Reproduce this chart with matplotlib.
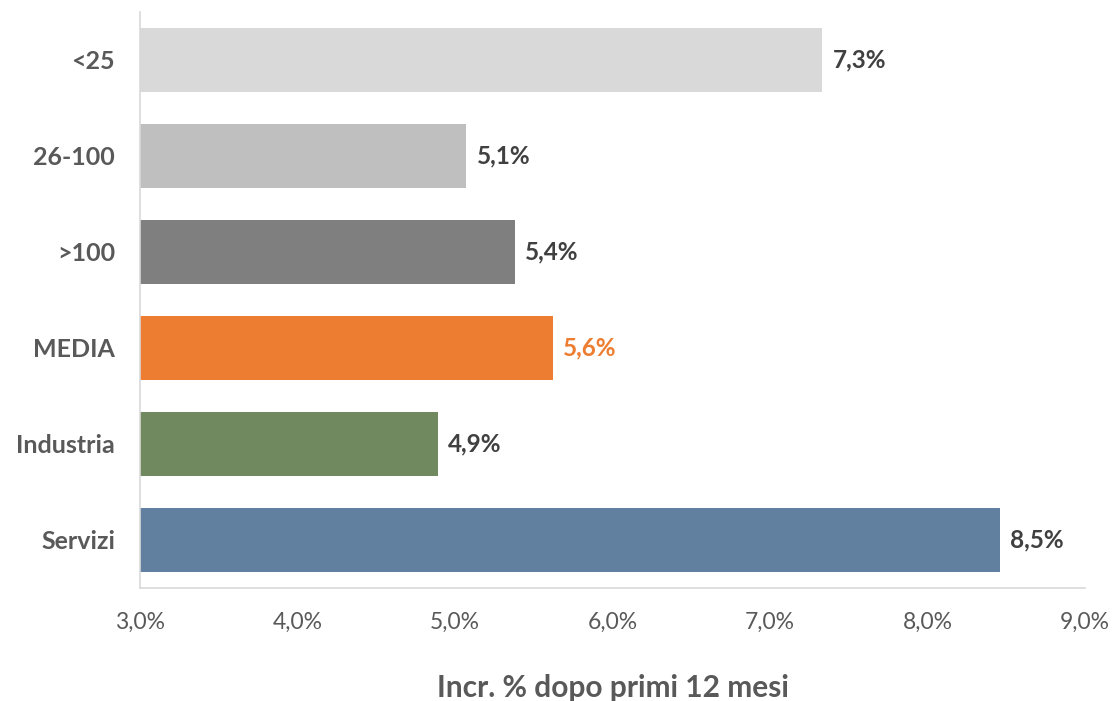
import matplotlib.pyplot as plt

plt.rcParams['font.family'] = ['Lato', 'DejaVu Sans']

categorie = ['<25', '26-100', '>100', 'MEDIA', 'Industria', 'Servizi']
valori = [7.33, 5.07, 5.38, 5.62, 4.89, 8.46]
colori = ['#d9d9d9', '#bfbfbf', '#7f7f7f', '#ed7d31', '#71895f', '#61809f']
colori_etichette = ['#404040', '#404040', '#404040', '#ed7d31', '#404040', '#404040']
x_ticks = [3, 4, 5, 6, 7, 8, 9]

fig = plt.figure(figsize=(11.12, 7.01), dpi=100)
ax = fig.add_axes([0.1259, 0.1612, 0.8498, 0.8217])

pos = list(range(len(categorie)))
ax.barh(pos, [v - 3 for v in valori], left=3, height=0.66, color=colori)

for p, v, c in zip(pos, valori, colori_etichette):
    testo = f"{v:.1f}%".replace('.', ',')
    ax.annotate(testo, (v, p), xytext=(7.5, 0), textcoords='offset points',
                va='center', ha='left', fontsize=17.5, fontweight='bold', color=c)

ax.set_ylim(len(categorie) - 0.5, -0.5)
ax.set_xlim(3, 9)
ax.set_yticks(pos)
ax.set_yticklabels(categorie, fontsize=18, fontweight='bold', color='#595959')
ax.set_xticks(x_ticks)
ax.set_xticklabels([f"{t},0%" for t in x_ticks], fontsize=16.5, color='#595959')
ax.tick_params(length=0)
ax.tick_params(axis='y', pad=18)
ax.tick_params(axis='x', pad=17)

for s in ['top', 'right']:
    ax.spines[s].set_visible(False)
ax.spines['left'].set_color('#d9d9d9')
ax.spines['bottom'].set_color('#d9d9d9')
ax.spines['left'].set_linewidth(1.2)
ax.spines['bottom'].set_linewidth(1.2)

fig.text(0.5 * (0.1259 + 0.9757), 1 - 688 / 701, 'Incr. % dopo primi 12 mesi',
         ha='center', va='center', fontsize=21.5, fontweight='bold', color='#595959')

fig.savefig('out.png', dpi=100)
